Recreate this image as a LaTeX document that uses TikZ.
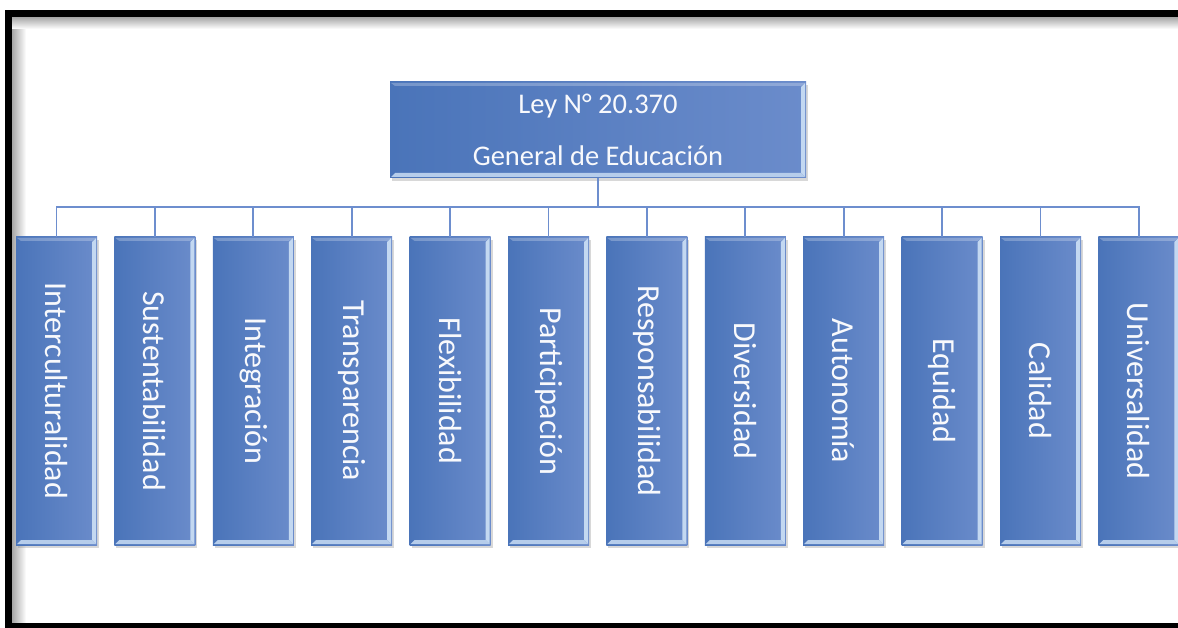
\documentclass[tikz,border=0pt]{standalone}
\usepackage{fontspec}
\setmainfont{Carlito}
\usetikzlibrary{shadows}
\definecolor{boxL}{HTML}{4A74B9}
\definecolor{boxR}{HTML}{6B8CCB}
\definecolor{bevelhi}{HTML}{C3D8F1}
\definecolor{linkblue}{HTML}{6D8ECE}

\begin{document}
\begin{tikzpicture}[x=1pt,y=-1pt,
  bevelbox/.style={inner sep=0pt, text=white!95!boxR, left color=boxL, right color=boxR,
    drop shadow={shadow xshift=2pt, shadow yshift=-3pt, opacity=.3},
    path picture={
      % light bevel on the right edge
      \fill[bevelhi]
        ([xshift=-1pt,yshift=-1pt]path picture bounding box.north east) --
        ([xshift=-5pt,yshift=-5pt]path picture bounding box.north east) --
        ([xshift=-5pt,yshift=5pt]path picture bounding box.south east) --
        ([xshift=-1pt,yshift=1pt]path picture bounding box.south east) -- cycle;
      % light bevel on the bottom edge
      \fill[bevelhi!85!boxR]
        ([xshift=1pt,yshift=1pt]path picture bounding box.south west) --
        ([xshift=5pt,yshift=5pt]path picture bounding box.south west) --
        ([xshift=-5pt,yshift=5pt]path picture bounding box.south east) --
        ([xshift=-1pt,yshift=1pt]path picture bounding box.south east) -- cycle;
      % faint highlight along the top edge
      \fill[white, opacity=.25]
        ([xshift=1pt,yshift=-1pt]path picture bounding box.north west) --
        ([xshift=-1pt,yshift=-1pt]path picture bounding box.north east) --
        ([xshift=-5pt,yshift=-4pt]path picture bounding box.north east) --
        ([xshift=5pt,yshift=-4pt]path picture bounding box.north west) -- cycle;
    }},
  topbox/.style={bevelbox, minimum width=416pt, minimum height=96pt,
    align=center, font=\fontsize{28.5}{52}\selectfont},
  childbox/.style={bevelbox, minimum width=81pt, minimum height=308pt,
    font=\fontsize{32}{36}\selectfont},
  linkline/.style={draw=linkblue, line width=1.8pt}]

\useasboundingbox (0,0) rectangle (1178,628);
\fill[white] (0,0) rectangle (1178,628);

% outer frame with a soft inner shade
\shade[left color=black!35, right color=white] (12,17) rectangle (26,628);
\shade[top color=black!35, bottom color=white] (12,17) rectangle (1178,29);
\draw[line width=7pt] (1190,13.5) -- (8.5,13.5) -- (8.5,626) -- (1190,626);

% root
\node[topbox] (top) at (598,130) {Ley N° 20.370\\General de Educación};

% principles
\foreach \t [count=\i] in {Interculturalidad, Sustentabilidad, Integración,
    Transparencia, Flexibilidad, Participación, Responsabilidad, Diversidad,
    Autonomía, Equidad, Calidad, Universalidad}
  \node[childbox] (c\i) at ({56.5+98.4*(\i-1)},391) {\rotatebox{-90}{\t}};

% connectors
\coordinate (bus) at (598,207);
\foreach \i in {1,...,12}
  \draw[linkline] (top.south) -- (bus) -| (c\i.north);

\end{tikzpicture}
\end{document}
